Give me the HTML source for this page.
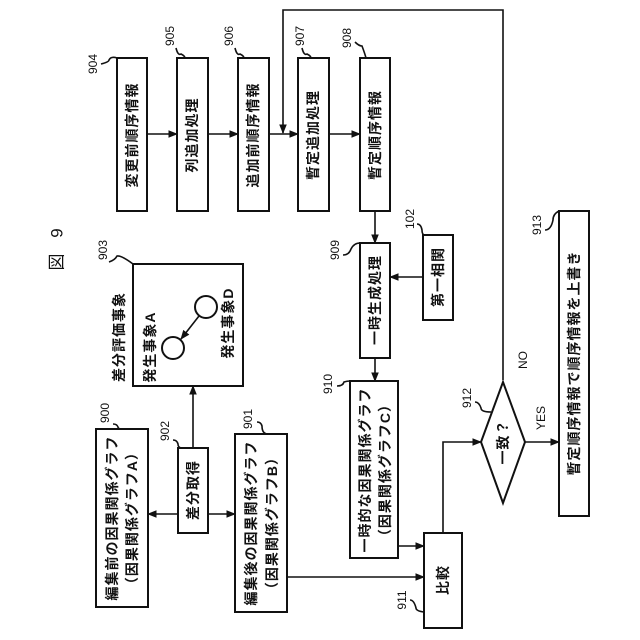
<!DOCTYPE html>
<html><head><meta charset="utf-8"><style>
html,body{margin:0;padding:0;background:#fff}
svg{display:block}
text{font-family:"Liberation Sans","Noto Sans CJK JP",sans-serif;fill:#111}
.b{fill:#fff;stroke:#111;stroke-width:2}
.l{fill:none;stroke:#111;stroke-width:1.6}
.t{font-size:14px;letter-spacing:1px;font-weight:600}
.n{font-size:12px}
</style></head><body>
<svg width="640" height="640" viewBox="0 0 640 640" xmlns="http://www.w3.org/2000/svg">
<defs><marker id="a" viewBox="0 0 10 10" refX="9" refY="5" markerWidth="6" markerHeight="6" orient="auto"><path d="M0,1 L10,5 L0,9 z" fill="#111"/></marker></defs>

<g class="l" marker-end="url(#a)">
<line x1="147" y1="134" x2="177" y2="134"/>
<line x1="208" y1="134" x2="238" y2="134"/>
<line x1="269" y1="134" x2="298" y2="134"/>
<line x1="329" y1="134" x2="360" y2="134"/>
<polyline points="503,380 503,10 283,10 283,133"/>
<line x1="375" y1="211" x2="375" y2="243"/>
<line x1="423" y1="277" x2="390" y2="277"/>
<line x1="375" y1="358" x2="375" y2="381"/>
<line x1="398" y1="546" x2="424" y2="546"/>
<line x1="287" y1="577" x2="424" y2="577"/>
<polyline points="443,533 443,442 481,442"/>
<line x1="525" y1="442" x2="559" y2="442"/>
<line x1="193" y1="448" x2="193" y2="386"/>
<line x1="178" y1="514" x2="148" y2="514"/>
<line x1="208" y1="514" x2="235" y2="514"/>
</g>

<rect class="b" x="117" y="58" width="30" height="153"/>
<rect class="b" x="177" y="58" width="31" height="153"/>
<rect class="b" x="238" y="58" width="31" height="153"/>
<rect class="b" x="298" y="58" width="31" height="153"/>
<rect class="b" x="360" y="58" width="30" height="153"/>
<rect class="b" x="360" y="243" width="30" height="115"/>
<rect class="b" x="423" y="235" width="30" height="85"/>
<rect class="b" x="350" y="381" width="48" height="177"/>
<rect class="b" x="424" y="533" width="38" height="95"/>
<rect class="b" x="96" y="429" width="52" height="178"/>
<rect class="b" x="178" y="448" width="30" height="85"/>
<rect class="b" x="235" y="434" width="52" height="178"/>
<rect class="b" x="133" y="264" width="110" height="122"/>
<rect class="b" x="559" y="211" width="30" height="305"/>
<polygon class="b" points="503,382 525,442 503,503 481,442"/>
<circle class="b" cx="173" cy="348" r="11"/>
<circle class="b" cx="206" cy="307" r="11"/>
<line class="l" x1="199" y1="316" x2="181" y2="339" marker-end="url(#a)"/>

<g class="l" stroke-width="1.2">
<path d="M101,64 q8,-2 8,-4 q2,-4 8,-2"/>
<path d="M176,48 q2,8 5,6 q4,2 4,4"/>
<path d="M235,48 q2,8 5,6 q4,2 4,4"/>
<path d="M302,48 q2,8 5,6 q4,2 4,4"/>
<path d="M355,42 q4,4 7,4 q3,8 4,12"/>
<path d="M343,255 q6,0 8,-6 q3,-6 9,-6"/>
<path d="M417,224 q4,0 5,6 q0,4 2,5"/>
<path d="M337,386 q6,0 7,-4 q3,-1 6,-1"/>
<path d="M113,424 q4,0 5,3 q0,2 4,2"/>
<path d="M173,440 q4,0 5,4 q0,4 4,4"/>
<path d="M257,422 q4,0 5,4 q0,8 6,8"/>
<path d="M410,600 q4,0 6,8 q0,3 8,4"/>
<path d="M475,402 q4,0 6,6 q0,4 10,4"/>
<path d="M545,230 q6,0 8,-10 q0,-6 6,-9"/>
<path d="M109,262 q6,-2 8,-6 q4,-1 16,8"/>
</g>

<g text-anchor="middle" dominant-baseline="central">
<text class="t" transform="translate(132,135) rotate(-90)">変更前順序情報</text>
<text class="t" transform="translate(192,135) rotate(-90)">列追加処理</text>
<text class="t" transform="translate(253,135) rotate(-90)">追加前順序情報</text>
<text class="t" transform="translate(313,135) rotate(-90)">暫定追加処理</text>
<text class="t" transform="translate(375,135) rotate(-90)">暫定順序情報</text>
<text class="t" transform="translate(375,300) rotate(-90)">一時生成処理</text>
<text class="t" transform="translate(438,277) rotate(-90)">第一相関</text>
<text class="t" transform="translate(365,470) rotate(-90)">一時的な因果関係グラフ</text>
<text class="t" transform="translate(385,470) rotate(-90)">（因果関係グラフC）</text>
<text class="t" transform="translate(443,580) rotate(-90)">比較</text>
<text class="t" transform="translate(112,518) rotate(-90)">編集前の因果関係グラフ</text>
<text class="t" transform="translate(132,518) rotate(-90)">（因果関係グラフA）</text>
<text class="t" transform="translate(193,490) rotate(-90)">差分取得</text>
<text class="t" transform="translate(251,523) rotate(-90)">編集後の因果関係グラフ</text>
<text class="t" transform="translate(272,523) rotate(-90)">（因果関係グラフB）</text>
<text class="t" transform="translate(119,337) rotate(-90)">差分評価事象</text>
<text class="t" transform="translate(150,347) rotate(-90)">発生事象A</text>
<text class="t" transform="translate(228,323) rotate(-90)">発生事象D</text>
<text class="t" transform="translate(574,363) rotate(-90)">暫定順序情報で順序情報を上書き</text>
<text class="t" transform="translate(503,442) rotate(-90)">一致？</text>
<text class="n" transform="translate(523,360) rotate(-90)">NO</text>
<text class="n" transform="translate(541,418) rotate(-90)">YES</text>
<text class="n" transform="translate(93,64) rotate(-90)">904</text>
<text class="n" transform="translate(170,36) rotate(-90)">905</text>
<text class="n" transform="translate(229,36) rotate(-90)">906</text>
<text class="n" transform="translate(300,36) rotate(-90)">907</text>
<text class="n" transform="translate(347,38) rotate(-90)">908</text>
<text class="n" transform="translate(335,250) rotate(-90)">909</text>
<text class="n" transform="translate(410,219) rotate(-90)">102</text>
<text class="n" transform="translate(328,384) rotate(-90)">910</text>
<text class="n" transform="translate(105,413) rotate(-90)">900</text>
<text class="n" transform="translate(165,431) rotate(-90)">902</text>
<text class="n" transform="translate(248,419) rotate(-90)">901</text>
<text class="n" transform="translate(402,600) rotate(-90)">911</text>
<text class="n" transform="translate(467,398) rotate(-90)">912</text>
<text class="n" transform="translate(537,225) rotate(-90)">913</text>
<text class="n" transform="translate(103,250) rotate(-90)">903</text>
<text style="font-size:17px" transform="translate(57,262) rotate(-90)">図</text>
<text style="font-size:17px" transform="translate(57,233) rotate(-90)">9</text>
</g>
</svg>
</body></html>
